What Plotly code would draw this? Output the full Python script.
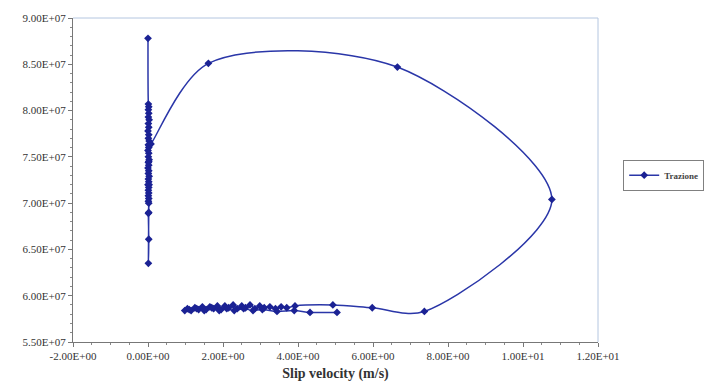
import plotly.graph_objects as go

# Slip velocity (m/s) vs traction force for one stick-slip cycle ("Trazione")
# Stick phase: velocity ~0 while the traction oscillates
stick_v = [0.00, 0.01, 0.02, 0.01, 0.02, 0.01, 0.03, 0.01, 0.02, 0.00, 0.02, 0.01,
           0.03, 0.01, 0.02, 0.00, 0.02, 0.01, 0.03, 0.01, 0.02, 0.00, 0.02, 0.01,
           0.03, 0.01, 0.02, 0.00, 0.02, 0.01, 0.02, 0.01, 0.02, 0.01, 0.02, 0.01,
           0.02, 0.01, 0.02, 0.03, 0.02, 0.03]
stick_t = [8.78e7, 8.07e7, 8.04e7, 8.01e7, 7.97e7, 7.93e7, 7.90e7, 7.86e7, 7.82e7,
           7.78e7, 7.74e7, 7.70e7, 7.67e7, 7.63e7, 7.60e7, 7.57e7, 7.54e7, 7.50e7,
           7.47e7, 7.44e7, 7.41e7, 7.38e7, 7.35e7, 7.32e7, 7.29e7, 7.26e7, 7.23e7,
           7.20e7, 7.17e7, 7.14e7, 7.11e7, 7.08e7, 7.05e7, 7.02e7, 7.00e7, 6.89e7,
           6.61e7, 6.35e7, 6.90e7, 7.20e7, 7.45e7, 7.62e7]

# Slip phase: large loop, then back to a low-traction sliding band
slip_v = [0.08, 1.61, 6.65, 10.77, 7.37, 5.98, 4.93, 3.92,
          3.70, 3.55, 3.40, 3.25, 3.10, 2.98, 2.85, 2.72, 2.60, 2.50, 2.38, 2.27,
          2.15, 2.05, 1.95, 1.85, 1.75, 1.65, 1.55, 1.45, 1.35, 1.25, 1.15, 1.05, 0.98,
          1.10, 1.30, 1.50, 1.70, 1.90, 2.10, 2.30, 2.55, 2.80, 3.05, 3.44, 3.90,
          4.32, 5.04]
slip_t = [7.64e7, 8.51e7, 8.47e7, 7.04e7, 5.83e7, 5.87e7, 5.90e7, 5.89e7,
          5.87e7, 5.88e7, 5.86e7, 5.88e7, 5.87e7, 5.89e7, 5.86e7, 5.90e7, 5.87e7,
          5.89e7, 5.86e7, 5.90e7, 5.87e7, 5.89e7, 5.85e7, 5.89e7, 5.86e7, 5.88e7,
          5.85e7, 5.88e7, 5.85e7, 5.87e7, 5.84e7, 5.86e7, 5.84e7,
          5.85e7, 5.86e7, 5.84e7, 5.87e7, 5.84e7, 5.86e7, 5.84e7, 5.86e7, 5.84e7,
          5.85e7, 5.83e7, 5.84e7, 5.82e7, 5.82e7]

velocity = stick_v + slip_v
traction = stick_t + slip_t

x_ticks = [-2, 0, 2, 4, 6, 8, 10, 12]
x_labels = ["-2.00E+00", "0.00E+00", "2.00E+00", "4.00E+00", "6.00E+00",
            "8.00E+00", "1.00E+01", "1.20E+01"]
y_ticks = [5.5e7, 6.0e7, 6.5e7, 7.0e7, 7.5e7, 8.0e7, 8.5e7, 9.0e7]
y_labels = ["5.50E+07", "6.00E+07", "6.50E+07", "7.00E+07", "7.50E+07",
            "8.00E+07", "8.50E+07", "9.00E+07"]

SERIF = "Liberation Serif, Times New Roman, serif"

fig = go.Figure()
fig.add_trace(go.Scatter(
    x=velocity, y=traction, name="<b>Trazione</b>",
    mode="lines+markers",
    line=dict(color="#2a36a8", width=1.5, shape="spline", smoothing=0.9),
    marker=dict(symbol="diamond", size=6, color="#1b2294"),
))

fig.update_layout(
    width=708, height=382,
    margin=dict(l=73, r=110, t=18, b=40, autoexpand=False),
    paper_bgcolor="white", plot_bgcolor="white",
    font=dict(family=SERIF, size=11, color="#333333"),
    showlegend=True,
    legend=dict(
        x=1.048, y=0.515, xanchor="left", yanchor="middle",
        bordercolor="#808080", borderwidth=1,
        font=dict(family=SERIF, size=9, color="#444444"),
        itemwidth=30, tracegroupgap=0,
    ),
    xaxis=dict(
        range=[-2, 12], tickvals=x_ticks, ticktext=x_labels,
        showgrid=False, zeroline=False,
        showline=True, linecolor="#777777", linewidth=1,
        ticks="outside", ticklen=4, tickcolor="#777777",
        minor=dict(ticks="outside", ticklen=2, dtick=0.5, tickcolor="#888888"),
        title=dict(text="<b>Slip velocity (m/s)</b>", standoff=8,
                   font=dict(family=SERIF, size=14, color="#333333")),
    ),
    yaxis=dict(
        range=[5.5e7, 9.0e7], tickvals=y_ticks, ticktext=y_labels,
        showgrid=False, zeroline=False,
        showline=True, linecolor="#777777", linewidth=1,
        ticks="outside", ticklen=4, tickcolor="#777777",
        minor=dict(ticks="outside", ticklen=2, dtick=1e6, tickcolor="#888888"),
    ),
)

# Light frame on the top and right of the plotting area
for x0, y0, x1, y1 in [(0, 1, 1, 1), (1, 0, 1, 1)]:
    fig.add_shape(type="line", xref="x domain", yref="y domain",
                  x0=x0, y0=y0, x1=x1, y1=y1,
                  line=dict(color="#b4c6e0", width=1))

fig.write_html("out.html")
